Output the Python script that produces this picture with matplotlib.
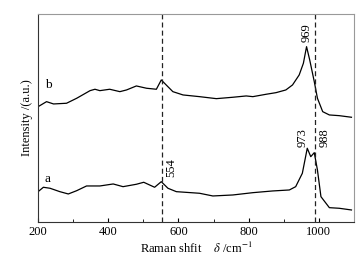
import numpy as np
import matplotlib.pyplot as plt
from matplotlib.ticker import MultipleLocator

# Raman shift (cm^-1) and intensity (a.u.)
shift_b = [200, 224, 244, 281, 310, 348, 362, 376, 404, 433, 452, 480, 509, 537,
           551, 565, 584, 613, 660, 708, 755, 793, 812, 850, 878, 906, 925, 944,
           956, 965, 974, 987, 996, 1011, 1030, 1058, 1093]
int_b = [115.3, 120.3, 118.0, 118.7, 123.7, 131.3, 132.7, 131.3, 132.7, 130.3,
         132.0, 136.0, 133.7, 132.7, 142.0, 137.0, 130.3, 127.0, 125.3, 123.3,
         124.7, 126.0, 125.3, 127.7, 129.3, 132.0, 137.0, 147.0, 158.7, 175.3,
         162.0, 140.3, 123.7, 110.3, 107.0, 106.3, 104.7]

shift_a = [200, 215, 234, 262, 286, 310, 338, 376, 414, 442, 480, 501, 532, 551,
           570, 594, 660, 698, 755, 812, 868, 916, 934, 953, 967, 977, 987, 996,
           1006, 1030, 1058, 1093]
int_a = [30.3, 34.7, 33.7, 30.3, 28.0, 31.3, 36.0, 36.0, 38.0, 35.3, 37.7, 39.7,
         34.7, 40.3, 33.7, 30.3, 28.7, 26.0, 27.0, 29.3, 31.0, 32.0, 35.3, 48.7,
         73.7, 65.3, 69.3, 52.0, 25.3, 14.3, 13.7, 12.0]

dashed_at = [554, 988]
peak_labels = [("969", 965, 180), ("973", 954, 75), ("988", 1016, 75), ("554", 580, 45)]

plt.rcParams['font.family'] = ['Liberation Serif', 'DejaVu Serif']
plt.rcParams['mathtext.fontset'] = 'stix'

fig = plt.figure(figsize=(3.63, 2.63), dpi=100)
ax = fig.add_axes([0.105, 0.156, 0.870, 0.791])

ax.plot(shift_b, int_b, color='black', lw=0.9)
ax.plot(shift_a, int_a, color='black', lw=0.9)

for x in dashed_at:
    ax.axvline(x, color='#222222', lw=0.9, ls=(0, (4, 2.5)))

for txt, x, y in peak_labels:
    ax.text(x, y, txt, rotation=90, ha='center', va='bottom', fontsize=9)

ax.text(228, 137, 'b', ha='center', va='center', fontsize=9.5)
ax.text(228, 43, 'a', ha='center', va='center', fontsize=9.5)

ax.set_xlim(200, 1100)
ax.set_ylim(0, 208)
ax.xaxis.set_minor_locator(MultipleLocator(100))
ax.set_xticks([200, 400, 600, 800, 1000])
ax.tick_params(axis='x', which='major', direction='in', length=3, labelsize=9, pad=3)
ax.tick_params(axis='x', which='minor', direction='in', length=2)
ax.set_yticks([])

for side in ['top', 'right']:
    ax.spines[side].set_color('#999999')
for side in ['left', 'bottom']:
    ax.spines[side].set_color('#333333')
for s in ax.spines.values():
    s.set_linewidth(0.8)

ax.set_xlabel(r'Raman shfit    $\delta$ /cm$^{-1}$', fontsize=9, labelpad=2)
ax.set_ylabel('Intensity /(a.u.)', fontsize=9, labelpad=4)

fig.savefig('out.png', dpi=100)
